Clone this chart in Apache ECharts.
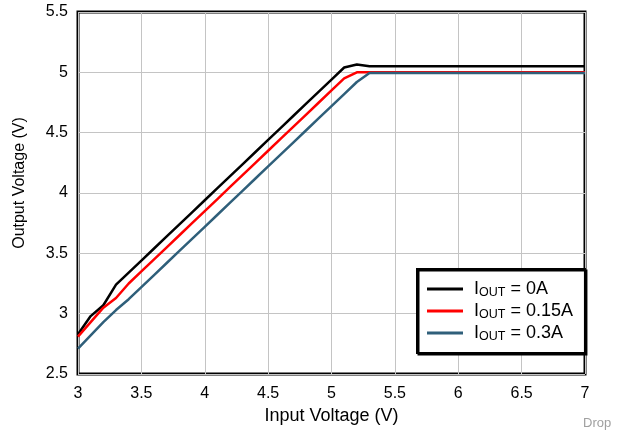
<!DOCTYPE html>
<html><head><meta charset="utf-8">
<script src="https://cdn.jsdelivr.net/npm/echarts@6/dist/echarts.min.js"></script>
<style>html,body{margin:0;padding:0;background:#fff}#c{width:621px;height:431px}</style>
</head><body><div id="c"></div>
<script>
const inputV = [3.0,3.1,3.2,3.3,3.4,3.5,3.6,3.7,3.8,3.9,4.0,4.1,4.2,4.3,4.4,4.5,4.6,4.7,4.8,4.9,5.0,5.1,5.2,5.3,5.4,5.5,6.0,6.5,7.0];
const out0 = [2.83,2.98,3.07,3.24,3.34,3.44,3.54,3.64,3.74,3.84,3.94,4.04,4.14,4.24,4.34,4.44,4.54,4.64,4.74,4.84,4.94,5.04,5.065,5.05,5.05,5.05,5.05,5.05,5.05];
const out015 = [2.81,2.93,3.05,3.13,3.25,3.35,3.45,3.55,3.65,3.75,3.85,3.95,4.05,4.15,4.25,4.35,4.45,4.55,4.65,4.75,4.85,4.95,5.0,5.0,5.0,5.0,5.0,5.0,5.0];
const out03 = [2.71,2.82,2.93,3.03,3.12,3.22,3.32,3.42,3.52,3.62,3.72,3.82,3.92,4.02,4.12,4.22,4.32,4.42,4.52,4.62,4.72,4.82,4.92,4.995,4.995,4.995,4.995,4.995,4.995];
const seriesNames = ['0A','0.15A','0.3A'];
const seriesColors = ['#000000','#ff0000','#2f5f7a'];
const xLabel = 'Input Voltage (V)';
const yLabel = 'Output Voltage (V)';

const allData = [out0, out015, out03];
const font = 'Liberation Sans, Arial, sans-serif';
const chart = echarts.init(document.getElementById('c'));
chart.setOption({
  animation: false,
  grid: {left: 78, right: 36, top: 12, bottom: 57, containLabel: false, outerBoundsMode: 'none',
         show: true, borderColor: '#000', borderWidth: 3, backgroundColor: 'transparent'},
  xAxis: {
    type: 'value', min: 3, max: 7, interval: 0.5,
    name: xLabel, nameLocation: 'middle', nameGap: 32,
    nameTextStyle: {fontFamily: font, fontSize: 18, color: '#000'},
    axisLine: {show: false}, axisTick: {show: false},
    axisLabel: {fontFamily: font, fontSize: 16, color: '#000', margin: 12},
    splitLine: {lineStyle: {color: '#c4c4c4', width: 1}}
  },
  yAxis: {
    type: 'value', min: 2.5, max: 5.5, interval: 0.5,
    name: yLabel, nameLocation: 'middle', nameGap: 50,
    nameTextStyle: {fontFamily: font, fontSize: 16, color: '#000', padding: [0, 0, 0, 20], lineHeight: 16},
    axisLine: {show: false}, axisTick: {show: false},
    axisLabel: {fontFamily: font, fontSize: 16, color: '#000', margin: 10},
    splitLine: {lineStyle: {color: '#c4c4c4', width: 1}}
  },
  legend: {
    orient: 'vertical', left: 417, top: 269,
    backgroundColor: '#fff', borderColor: '#000', borderWidth: 2,
    shadowColor: '#000', shadowOffsetX: 1.5, shadowOffsetY: 1.5, shadowBlur: 0,
    padding: [10, 12, 10, 10], itemGap: 2, itemWidth: 36, itemHeight: 20,
    icon: 'path://M0,8.5 L36,8.5 L36,11.5 L0,11.5 Z',
    formatter: n => '{p|I}{b|OUT}{a| = ' + n + '}',
    textStyle: {
      rich: {
        p: {fontFamily: font, fontSize: 18, color: '#000', lineHeight: 20, padding: [0, 0, 0, 6]},
        a: {fontFamily: font, fontSize: 18, color: '#000', lineHeight: 20},
        b: {fontFamily: font, fontSize: 12.5, color: '#000', lineHeight: 20, verticalAlign: 'bottom', padding: [7, 0, 0, 0]}
      }
    },
    data: seriesNames
  },
  series: seriesNames.map((n, i) => ({
    name: n, type: 'line', showSymbol: false, symbol: 'none',
    data: inputV.map((x, j) => [x, allData[i][j]]),
    lineStyle: {color: seriesColors[i], width: 2.5},
    itemStyle: {color: seriesColors[i]}
  })),
  graphic: [{type: 'text', left: 583, top: 417, style: {text: 'Drop', fontFamily: font, fontSize: 13, fill: '#a0a0a0'}}]
});
</script></body></html>
